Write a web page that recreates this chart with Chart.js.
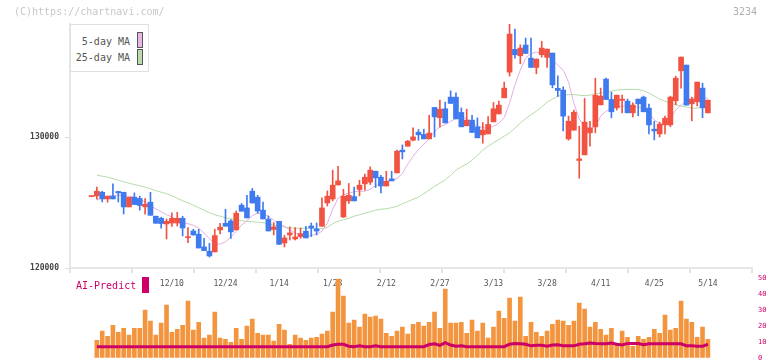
<!DOCTYPE html>
<html>
<head>
<meta charset="utf-8">
<script src="https://cdn.jsdelivr.net/npm/chart.js@4.4.1/dist/chart.umd.min.js"></script>
<style>
  html, body { margin: 0; padding: 0; background: #fff; }
  #wrap { position: relative; width: 772px; height: 361px; overflow: hidden; font-family: 'DejaVu Sans Mono', monospace; }
  canvas { position: absolute; left: 0; top: 0; }
  .txt { position: absolute; white-space: nowrap; font-size: 10px; line-height: 10px; }
  #legend { position: absolute; left: 70px; top: 24px; width: 77px; height: 46px; border: 1px solid #e0e0e0; background: #fff; }
  .sw { position: absolute; width: 4px; height: 14px; border: 1px solid #555; }
</style>
</head>
<body>
<div id="wrap">
  <canvas id="price" width="772" height="361"></canvas>
  <canvas id="ai" width="772" height="368"></canvas>
  <div class="txt" style="left:14px;top:7px;color:#c8c8c8">(C)https://chartnavi.com/</div>
  <div class="txt" style="left:733px;top:7px;color:#b0b0b0">3234</div>
  <div id="legend">
    <div class="txt" style="right:18px;top:12px;color:#555">5-day MA</div>
    <div class="sw" style="left:66px;top:7px;background:#e8b4ea"></div>
    <div class="txt" style="right:18px;top:28px;color:#555">25-day MA</div>
    <div class="sw" style="left:66px;top:24px;background:#b9dcae"></div>
  </div>
  <div class="txt" style="left:76px;top:281px;color:#cc0066">AI-Predict</div>
  <div style="position:absolute;left:142px;top:277px;width:7px;height:16px;background:#cc0066"></div>
</div>
<script>
// daily candles, 11/19 .. 5/14 (116 sessions)
const open = [
  125460,125510,125790,125280,125490,125850,125790,124670,125410,125310,
  124670,125030,123960,123800,123370,123440,123440,123800,122320,122830,
  122580,121610,121280,121230,122910,123420,123600,122910,124800,124590,
  125870,125410,124420,123730,122940,123570,121910,122530,122220,122400,
  122810,123210,122990,123190,124970,125280,126350,123900,125130,125460,
  126000,126430,126560,127400,126940,126270,126810,127270,129010,129310,
  129770,130380,130210,129870,132270,131480,132170,133060,133060,131890,
  130870,131300,130790,130180,130250,131170,131780,133010,134970,136710,
  136220,137040,136040,135330,136300,136100,136430,133730,133600,129870,
  130540,128220,128650,130330,130790,132470,134440,132880,132240,132810,
  132750,131860,132910,133060,132220,130610,130250,130940,130940,132780,
  135070,135510,132550,132700,133750,131860
];
const high = [
  125480,126180,125870,125490,126430,125870,125790,125410,125740,125490,
  125310,125790,123960,123880,123750,124210,124260,123960,123090,122960,
  122960,122270,121890,122960,123420,124490,123700,124360,124930,125560,
  126080,125560,125030,123980,123470,123570,122500,123140,123090,123060,
  123190,123440,123440,125360,125890,127480,127780,126020,126460,126180,
  126710,127170,127730,127400,127090,127400,127400,129010,129410,129750,
  130710,130590,130610,131680,132270,132830,132680,133540,133390,132240,
  132140,131660,131480,131120,131580,132650,132750,134210,138640,138260,
  137060,137570,137570,135970,137320,136730,136430,134690,133850,131610,
  132070,130840,132960,131220,134510,133750,134510,133440,133210,133210,
  132910,132620,132910,133140,132520,131220,131150,131610,133140,134670,
  136120,135510,133060,134210,134130,132830
];
const low = [
  125440,125260,125050,125030,125280,125050,124130,124670,124850,124420,
  124110,124030,123420,123040,122220,123170,123210,122450,121940,122500,
  121530,121330,120840,121230,122600,123190,122270,122910,124340,123830,
  124970,124190,123750,122830,122530,121810,121610,122140,122140,122270,
  122300,122400,122530,123190,124740,125130,126350,123860,124930,125130,
  125510,125950,126380,126150,125740,126270,126660,127270,128340,129310,
  129720,129770,129870,129870,130020,130770,131090,132580,131400,130790,
  130870,130360,129950,129540,130250,131170,131780,133010,134670,136040,
  135610,136400,135330,134840,136120,135330,133770,133110,130480,129770,
  130540,126860,128650,129310,130330,132470,132880,131480,132070,131860,
  131860,131550,131630,131940,130250,129790,130020,130250,130790,132470,
  133750,132450,131250,132390,131480,131860
];
const close = [
  125470,125870,125280,125490,125280,125740,124670,125410,124850,124780,
  124870,124030,123420,123400,123570,123800,123800,123060,122330,122530,
  121530,121330,120920,122480,123120,123190,122760,124190,124340,123830,
  124970,124360,123750,122830,123140,121810,122300,122680,122370,122630,
  122300,123060,122830,124590,125490,126330,126660,125490,125560,125130,
  126330,126940,127480,126890,126270,126630,126660,128930,128880,129690,
  130020,130180,129870,130310,131550,132140,131090,132580,131400,130790,
  131300,130360,129950,130540,130970,132170,132450,133750,137880,136300,
  136810,136400,135330,135970,136810,136730,134000,133570,131610,131220,
  131910,128340,131150,130690,133210,133140,132880,131940,133210,132910,
  131860,132450,132550,131940,130940,130480,130990,131450,133060,134510,
  136120,132450,132910,134210,132240,132830
];

const ma5 = [
  null,125180,125410,125490,125530,125560,125530,125490,125430,125260,
  125050,124760,124530,124300,124070,123900,123690,123500,123380,123270,
  123040,122660,122240,121850,121820,122010,122350,122810,123270,123610,
  124000,124190,124150,123960,123650,123380,123190,122920,122690,122540,
  122500,122500,122580,122810,123420,124490,125330,125600,125720,125830,
  125870,125870,126020,126290,126440,126600,126710,126840,127210,127940,
  128550,129040,129470,129850,130420,130800,130960,131220,131420,131530,
  131420,131110,130840,130730,130670,130840,131070,131490,132600,133980,
  135130,136040,136390,136500,136430,136240,135930,135510,135130,134210,
  132600,131380,130840,130690,130800,131610,131990,132220,132330,132370,
  132370,132330,132300,132180,131840,131340,131030,131000,131380,132070,
  132450,132750,132950,133080,133060,132960
];
const ma25 = [
  null,127090,127020,126940,126830,126710,126600,126480,126380,126290,
  126180,126060,125910,125790,125680,125530,125330,125140,124990,124800,
  124610,124420,124220,124070,123960,123840,123770,123690,123610,123570,
  123540,123500,123460,123380,123270,123190,123120,123080,123040,123040,
  123040,123040,123000,123000,123120,123380,123570,123690,123800,123960,
  124070,124190,124300,124420,124490,124530,124610,124720,124910,125070,
  125260,125410,125680,125950,126250,126480,126750,127090,127480,127740,
  127940,128240,128620,129010,129310,129580,129810,130080,130340,130690,
  131070,131420,131720,131990,132300,132680,132910,133140,133210,133250,
  133250,133210,133180,133210,133330,133370,133440,133520,133600,133630,
  133650,133650,133630,133560,133370,133140,132910,132750,132600,132490,
  132370,132300,132220,132220,132300,132300
];

// AI-Predict panel
const aiBars = [
  null,
  11,16.7,13.5,20.4,16,18.5,14.2,18.5,18.5,29.9,
  23,14.2,21.7,33,16,17.9,20.4,35.5,17.3,22.3,
  12.3,14.2,28.6,12.3,11.6,9.7,18.5,11.6,19.8,24.2,
  15.4,14.2,14.2,10.4,21,17.3,8.5,14.2,12.3,11,
  12.3,12.9,14.8,16.7,28.6,49.4,38.7,21.7,23.6,19.2,
  27.4,25.5,26.1,24.2,15.4,13.5,16.7,19.2,14.8,21,
  22.3,19.8,22.3,28.6,18.5,43.1,21.7,21.7,22.3,15.4,
  23.6,16.7,21.7,12.3,19.2,29.2,24.8,37.4,23,38,
  13.5,22.3,16,13.5,16.7,21,23.6,23,20.4,23,
  34.3,30.5,19.2,22.3,17.9,14.2,18.5,9.1,16.7,12.9,
  7.2,13.5,11.6,12.9,17.9,15.4,26.7,17.3,18.5,35.5,
  24.2,22.3,12.9,19.2,11.6
];
const aiLine = [
  null,
  7,7,7,7,7,7,7,7,7,7,
  7,7,7,7,7,7,7,7,7,7,
  7,7,7,7,7,7,7,7,7,7,
  7,7,7,7,7,7,7,7,7,7,
  7,7,7,7,8,8.5,8.5,7.3,7,7.5,
  7,7,7.5,7,7,7,7,7,7,7,
  7,7,8.3,8.8,7.8,9.5,8,7.3,7.5,7,
  7,7,7,7,7,7,7,8.5,9,8.8,
  8.5,7.5,7.8,7.8,7.2,8,8.2,7.5,7.5,7.5,
  8.5,8.8,9.3,9,8.8,8.8,9.3,8.5,8,9,
  9,9,8.2,8.8,8.8,8.8,8.8,8.8,8.8,8.8,
  7.5,7.5,7.3,7.2,8.5
];

const dateTicks  = [15, 25, 35, 45, 55, 65, 75, 85, 95, 105, 115];
const dateLabels = ['12/10','12/24','1/14','1/28','2/12','2/27','3/13','3/28','4/11','4/25','5/14'];
const priceTicks = [120000, 130000];

const UP = '#f25241';
const DOWN = '#3f7bef';
const X_MIN = -4.01;
const X_MAX = 123.23;
const MONO = 'DejaVu Sans Mono';

const idx = open.map((_, i) => i);
const candleColors = idx.map(i => close[i] >= open[i] ? UP : DOWN);

new Chart(document.getElementById('price'), {
  type: 'bar',
  data: {
    datasets: [
      {
        type: 'bar', label: 'body',
        data: idx.map(i => ({ x: i, y: [open[i], close[i]] })),
        backgroundColor: candleColors, barThickness: 5, minBarLength: 1,
        grouped: false, order: 0,
      },
      {
        type: 'bar', label: 'wick',
        data: idx.map(i => ({ x: i, y: [low[i], high[i]] })),
        backgroundColor: candleColors, barThickness: 1,
        grouped: false, order: 1,
      },
      {
        type: 'line', label: '5-day MA',
        data: idx.map(i => ({ x: i, y: ma5[i] })),
        borderColor: '#e3aee6', borderWidth: 1, pointRadius: 0, tension: 0, order: 2,
      },
      {
        type: 'line', label: '25-day MA',
        data: idx.map(i => ({ x: i, y: ma25[i] })),
        borderColor: '#b5dba9', borderWidth: 1, pointRadius: 0, tension: 0, order: 3,
      },
    ],
  },
  options: {
    responsive: false,
    animation: false,
    plugins: { legend: { display: false }, tooltip: { enabled: false } },
    layout: { padding: { top: 24, right: 20, left: 0, bottom: 68 } },
    scales: {
      x: {
        type: 'linear', min: X_MIN, max: X_MAX, offset: false, weight: 1,
        grid: { display: false, drawTicks: false }, border: { display: false },
        afterBuildTicks: s => { s.ticks = dateTicks.map(v => ({ value: v })); },
        afterFit: s => { s.height = 20; },
        ticks: {
          autoSkip: false, maxRotation: 0, padding: 6, color: '#555',
          font: { family: MONO, size: 8 },
          callback: (v, i) => dateLabels[i],
        },
      },
      x2: {
        type: 'linear', position: 'bottom', min: 0, max: 11, offset: false, weight: 0,
        grid: { display: true, offset: false, drawOnChartArea: false, drawTicks: true, tickLength: 5, color: '#e2e2e2', lineWidth: 2 },
        border: { display: true, color: '#e6e6e6', width: 2 },
        ticks: { display: false, stepSize: 1 },
        afterFit: s => { s.height = 5; },
      },
      y: {
        min: 120000, max: 138650, position: 'left',
        afterBuildTicks: s => { s.ticks = priceTicks.map(v => ({ value: v })); },
        afterFit: s => { s.width = 70; },
        grid: { drawOnChartArea: false, tickLength: 5, color: '#dddddd' },
        border: { color: '#e6e6e6', width: 2 },
        ticks: { padding: 6, color: '#444', font: { family: MONO, size: 8, weight: 'bold' }, callback: v => String(v) },
      },
    },
  },
});

// canvas is 368 tall so that the plot bottom (after tick-label padding) lands at y≈357.5
new Chart(document.getElementById('ai'), {
  type: 'bar',
  data: {
    datasets: [
      {
        type: 'line', label: 'AI-Predict',
        data: idx.map(i => ({ x: i, y: aiLine[i] })),
        borderColor: '#cc0066', borderWidth: 3, pointRadius: 0, tension: 0, order: 0,
      },
      {
        type: 'bar', label: 'volume',
        data: idx.map(i => ({ x: i, y: aiBars[i] })),
        backgroundColor: '#f3953f', barThickness: 4, grouped: false, order: 1,
      },
    ],
  },
  options: {
    responsive: false,
    animation: false,
    plugins: { legend: { display: false }, tooltip: { enabled: false } },
    layout: { padding: { top: 278, bottom: 0, left: 70, right: 0 } },
    scales: {
      x: { type: 'linear', min: X_MIN, max: X_MAX, offset: false, display: false },
      y: {
        position: 'right', min: 0, max: 50,
        afterFit: s => { s.width = 20; },
        grid: { display: false, drawTicks: false }, border: { display: false },
        ticks: { stepSize: 10, padding: 6, color: '#cc0066', font: { family: MONO, size: 7 } },
      },
    },
  },
});
</script>
</body>
</html>
